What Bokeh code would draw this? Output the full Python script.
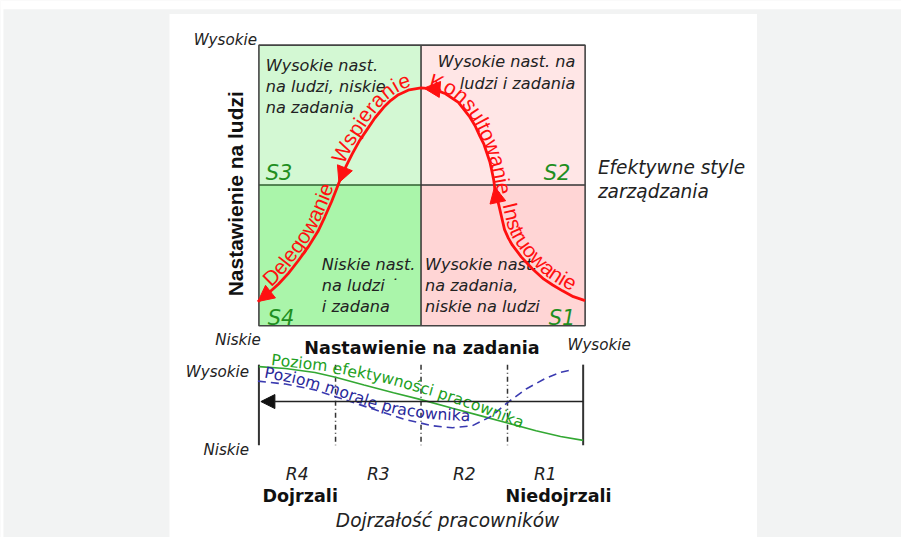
import numpy as np
from bokeh.plotting import figure
from bokeh.models import Range1d, Arrow, NormalHead, ColumnDataSource
from bokeh.core.properties import value
from bokeh.embed import file_html
from bokeh.resources import INLINE

# ---------------- data ----------------
axis_low, axis_high = "Niskie", "Wysokie"
people_axis_title = "Nastawienie na ludzi"
task_axis_title = "Nastawienie na zadania"
style_codes = ["S3", "S2", "S4", "S1"]
quadrant_lines = [
    ["Wysokie nast.", "na ludzi, niskie", "na zadania"],
    ["Wysokie nast. na", "ludzi i zadania"],
    ["Niskie nast.", "na ludzi \u02d9", "i zadana"],
    ["Wysokie nast.", "na zadania,", "niskie na ludzi"],
]
quadrant_fills = ["#d3f8d3", "#ffe6e6", "#aaf5aa", "#ffd5d5"]
style_names = ["Delegowanie", "Wspieranie", "Konsultowanie", "Instruowanie"]
effective_label = ["Efektywne style", "zarządzania"]

# leadership-style curve, S4 -> top -> S1 (reading direction)
curve_x = [262, 272, 283, 293, 303, 313, 323, 330, 337, 342, 347, 352, 358, 365, 373, 381, 390,
           397, 405, 416, 428, 440, 453, 466, 477, 483, 488, 492, 495, 498, 500, 502, 503, 505,
           507, 510, 513, 517, 521, 530, 541, 553, 562, 572, 583, 595]
curve_y = [310, 302, 292, 281, 268, 254, 238, 223, 207, 194, 181, 170, 158, 145, 133, 121, 110,
           103, 97, 92, 90, 91, 96, 105, 119, 129, 140, 148, 157, 166, 175, 185, 193, 202,
           210, 223, 236, 245, 252, 264, 276, 287, 293, 299, 305, 309]

maturity_levels = ["R4", "R3", "R2", "R1"]
maturity_ends = ["Dojrzali", "Niedojrzali"]
maturity_title = "Dojrzałość pracowników"
effectiveness_label = "Poziom efektywności pracownika"
morale_label = "Poziom morale pracownika"
eff_x = [263, 290, 320, 341, 370, 400, 428, 460, 490, 516, 545, 570, 593]
eff_y = [377, 379, 383, 388, 396, 404, 411, 420, 428, 435, 443, 449, 453]
mor_x = [262, 290, 320, 350, 380, 410, 440, 460, 480, 500, 516, 535, 555, 570, 583]
mor_y = [392, 395, 401, 411, 421, 431, 438, 440, 438, 428, 414, 400, 389, 383, 380]
eff_text_x = [275, 337, 390, 443, 490, 532]
eff_text_y = [375, 382, 393, 408, 424, 441]
mor_text_x = [268, 300, 335, 370, 400, 440, 480]
mor_text_y = [388, 394, 404, 416, 425, 431, 433]

# ---------------- styles / layout ----------------
FONT = value("DejaVu Sans")
FONT_A = value("Liberation Sans")
INK = "#222222"
GREEN_TXT = "#1f8f1f"
RED = "#ff1010"
SF = 0.976  # picture scale (901x537 canvas for a 917x553 drawing)
DJ = {' ': 318, 'a': 613, 'c': 550, 'd': 635, 'e': 615, 'f': 352, 'g': 635, 'i': 278, 'j': 278,
      'k': 579, 'l': 278, 'm': 974, 'n': 634, 'o': 612, 'p': 635, 'r': 411, 's': 521, 't': 392,
      'u': 634, 'w': 818, 'y': 592, 'z': 525, 'ś': 521, 'ć': 550, 'ó': 612, 'D': 770, 'I': 295,
      'K': 656, 'P': 603, 'W': 989}
AR = {' ': 278, 'a': 556, 'c': 500, 'd': 556, 'e': 556, 'g': 556, 'i': 222, 'k': 500, 'l': 222,
      'n': 556, 'o': 556, 'p': 556, 'r': 333, 's': 500, 't': 278, 'u': 556, 'w': 722, 'D': 722,
      'I': 278, 'K': 667, 'W': 944}

QX = [263, 428, 595]
QY = [46, 190, 335]
BX = [263, 341, 428, 516, 593]
BY = [375, 458]

p = figure(width=901, height=537, x_range=Range1d(0, 917), y_range=Range1d(553, 0),
           output_backend="svg", toolbar_location=None, min_border=0,
           x_axis_location=None, y_axis_location=None)
p.grid.visible = False
p.outline_line_color = None
p.background_fill_color = "#f2f3f3"
p.border_fill_color = "#f2f3f3"

# page strips and white panel
p.quad(left=[0, 0, 172], right=[917, 3, 770], top=[0, 0, 14], bottom=[9, 553, 553],
       fill_color="white", line_color=None)


def txt(x, y, t, size, style="normal", color=INK, align="left", baseline="alphabetic",
        angle=0.0, font=FONT):
    p.text(x=[x], y=[y], text=[t], text_font=font, text_font_size=f"{size * SF:.2f}px",
           text_font_style=style, text_color=color, text_align=align,
           text_baseline=baseline, angle=angle)


def along(px, py, text, start, size, offset, widths):
    """Glyph centres placed along a path; offset = distance of glyph centre from the path."""
    px = np.asarray(px, float)
    py = np.asarray(py, float)
    s = np.concatenate([[0], np.cumsum(np.hypot(np.diff(px), np.diff(py)))])
    sd = np.arange(0, s[-1], 0.5)
    xd = np.interp(sd, s, px)
    yd = np.interp(sd, s, py)
    cur = sd[np.argmin((xd - start[0]) ** 2 + (yd - start[1]) ** 2)]
    out = dict(x=[], y=[], text=[], angle=[])
    for ch in text:
        w = widths.get(ch, 600) * size / 1000.0
        c = cur + w / 2
        x = np.interp(c, s, px)
        y = np.interp(c, s, py)
        xa, ya = np.interp(c - 8, s, px), np.interp(c - 8, s, py)
        xb, yb = np.interp(c + 8, s, px), np.interp(c + 8, s, py)
        dx, dy = xb - xa, yb - ya
        n = np.hypot(dx, dy)
        dx, dy = dx / n, dy / n
        out['x'].append(x + dy * offset)
        out['y'].append(y - dx * offset)
        out['angle'].append(float(np.arctan2(-dy, dx)))
        out['text'].append(ch)
        cur += w
    return out


def path_text(px, py, text, start, size, gap, color, font=FONT, widths=DJ):
    # glyph centre sits about 0.3 em above the baseline
    src = ColumnDataSource(along(px, py, text, start, size, gap + 0.3 * size, widths))
    p.text(x='x', y='y', text='text', angle='angle', source=src, text_font=font,
           text_font_size=f"{size * SF:.2f}px", text_color=color, text_align="center",
           text_baseline="middle")


# ---------------- quadrant chart ----------------
lefts = [QX[0], QX[1], QX[0], QX[1]]
rights = [QX[1], QX[2], QX[1], QX[2]]
tops = [QY[0], QY[0], QY[1], QY[1]]
bottoms = [QY[1], QY[1], QY[2], QY[2]]
p.quad(left=lefts, right=rights, top=tops, bottom=bottoms, fill_color=quadrant_fills, line_color=None)
p.segment(x0=[QX[0], QX[1]], y0=[QY[1], QY[1]], x1=[QX[1], QX[2]], y1=[QY[1], QY[1]],
          line_color=["#2f5f2f", "#333333"], line_width=1.5)
p.segment(x0=[QX[1]], y0=[QY[0]], x1=[QX[1]], y1=[QY[2]], line_color="#333333", line_width=1.5)
p.quad(left=[QX[0]], right=[QX[2]], top=[QY[0]], bottom=[QY[2]], fill_color=None,
       line_color="#444444", line_width=1.6)

# quadrant texts
qpos = [(270, [67, 88.5, 110], "left"), (585, [63, 85], "right"),
        (327, [272, 293.5, 315], "left"), (432, [272, 293.5, 315], "left")]
for (x, ys, al), lines in zip(qpos, quadrant_lines):
    for y, t in zip(ys, lines):
        txt(x, y, t, 16.5, "italic", INK, al)

spos = [(270, 178, "left"), (580, 178, "right"), (272, 327, "left"), (585, 327, "right")]
for (x, y, al), t in zip(spos, style_codes):
    txt(x, y, t, 21.5, "italic", GREEN_TXT, al)

# style curve
p.line(curve_x, curve_y, line_color=RED, line_width=2.8)
starts = [(277, 297), (351, 170), (435, 90), (507, 211)]
gaps = [4, 4, 2, 5]
for name, st, gap in zip(style_names, starts, gaps):
    path_text(curve_x, curve_y, name, st, 21.5, gap, RED, FONT_A, AR)

# arrowheads along flow direction (S1 -> top -> S4)
fx = np.asarray(curve_x[::-1], float)
fy = np.asarray(curve_y[::-1], float)
fs = np.concatenate([[0], np.cumsum(np.hypot(np.diff(fx), np.diff(fy)))])
for tip in [(502, 192), (431, 90), (345, 188), (262, 310)]:
    sd = np.arange(0, fs[-1] + 0.5, 0.5)
    xd = np.interp(sd, fs, fx)
    yd = np.interp(sd, fs, fy)
    st = sd[np.argmin((xd - tip[0]) ** 2 + (yd - tip[1]) ** 2)]
    p.add_layout(Arrow(end=NormalHead(size=16, fill_color=RED, line_color=RED, line_width=1),
                       x_start=float(np.interp(st - 8, fs, fx)), y_start=float(np.interp(st - 8, fs, fy)),
                       x_end=float(np.interp(st, fs, fx)), y_end=float(np.interp(st, fs, fy)),
                       line_alpha=0))

# axis texts of the quadrant chart
txt(261, 41, axis_high, 15.5, "italic", INK, "right")
txt(265, 350, axis_low, 15.5, "italic", INK, "right")
txt(577, 355, axis_high, 15.5, "italic", INK, "left")
txt(429, 358, task_axis_title, 18, "bold", "#111111", "center")
txt(239, 199, people_axis_title, 21.5, "bold", "#111111", "center", baseline="middle",
    angle=np.pi / 2, font=FONT_A)
txt(608, 172, effective_label[0], 19, "italic", INK, "left")
txt(608, 197, effective_label[1], 19, "italic", INK, "left")

# ---------------- maturity chart ----------------
p.segment(x0=[BX[0], BX[-1]], y0=[BY[0]] * 2, x1=[BX[0], BX[-1]], y1=[BY[1]] * 2,
          line_color="#333333", line_width=2)
p.segment(x0=BX[1:-1], y0=[BY[0]] * 3, x1=BX[1:-1], y1=[BY[1]] * 3,
          line_color="#333333", line_width=1.5, line_dash="5 3 1 3")
p.add_layout(Arrow(end=NormalHead(size=14, fill_color="#111111", line_color="#111111", line_width=1),
                   x_start=BX[-1], y_start=413, x_end=BX[0] + 2, y_end=413,
                   line_color="#222222", line_width=1.5))
p.line(eff_x, eff_y, line_color="#33a833", line_width=1.6)
p.line(mor_x, mor_y, line_color="#3a3ab0", line_width=1.6, line_dash="8 5")
path_text(eff_text_x, eff_text_y, effectiveness_label, (275, 375), 16, 0, "#22a022")
path_text(mor_text_x, mor_text_y, morale_label, (268, 388), 16, 0, "#28289a")

txt(253, 383, axis_high, 15.5, "italic", INK, "right")
txt(253, 463, axis_low, 15.5, "italic", INK, "right")
for i, t in enumerate(maturity_levels):
    txt((BX[i] + BX[i + 1]) / 2, 488, t, 17.5, "italic", INK, "center")
txt(305, 510, maturity_ends[0], 18, "bold", "#111111", "center")
txt(568, 510, maturity_ends[1], 18, "bold", "#111111", "center")
txt(455, 535, maturity_title, 19, "italic", INK, "center")

open("out.html", "w").write(file_html(p, INLINE))
